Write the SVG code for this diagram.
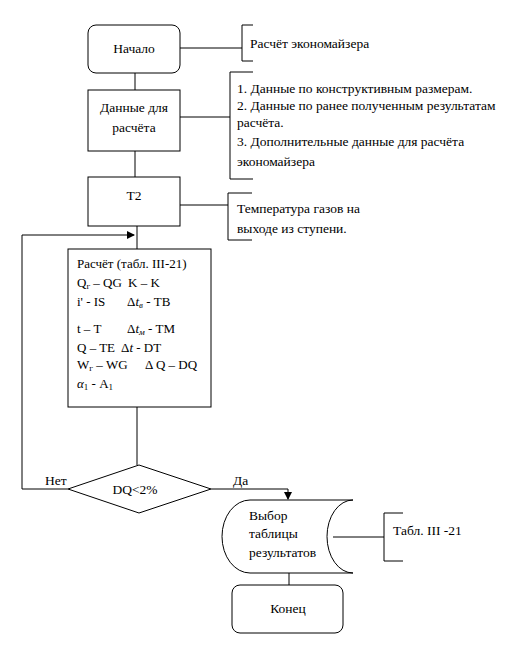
<svg xmlns="http://www.w3.org/2000/svg" width="532" height="646" viewBox="0 0 532 646" font-family="'Liberation Serif', 'Times New Roman', 'DejaVu Serif', serif">
<style>
text{font-family:'Liberation Serif','Times New Roman','DejaVu Serif',serif;font-size:13.5px;fill:#000}
.c{text-anchor:middle}
.s{fill:#fff;stroke:#000;stroke-width:1}
.l{fill:none;stroke:#000;stroke-width:1}
.sub{font-size:9px}
.i{font-style:italic}
#n-calc text{font-size:13px}
#n-calc .sub{font-size:9px}
</style>
<defs>
<marker id="ar" markerWidth="8" markerHeight="8" refX="7" refY="4" orient="auto" markerUnits="userSpaceOnUse">
<path d="M0,0 L8,4 L0,8 Z" fill="#000"/>
</marker>
</defs>
<rect width="532" height="646" fill="#fff"/>
<g id="connectors">
<path class="l" d="M135 73 V90"/>
<path class="l" d="M135 151 V177"/>
<path class="l" d="M137 226 V249"/>
<path class="l" d="M137 407 V465"/>
<path class="l" d="M68 489 H22 V235 H134" marker-end="url(#ar)"/>
<path class="l" d="M211 489 H288 V499" marker-end="url(#ar)"/>
<path class="l" d="M289 573 V585"/>
<path class="l" d="M180 48 H242"/>
<path class="l" d="M180 117 H230"/>
<path class="l" d="M180 205 H228"/>
<path class="l" d="M333 537 H384"/>
</g>
<g id="n-start">
<rect class="s" x="88" y="25" width="92" height="48" rx="8"/>
<text class="c" x="134" y="53">Начало</text>
</g>
<g id="n-note1">
<path class="l" d="M253 25 H242 V61 H253"/>
<text x="250" y="48">Расчёт экономайзера</text>
</g>
<g id="n-data">
<rect class="s" x="88" y="90" width="92" height="61"/>
<text class="c" x="134" y="112">Данные для</text>
<text class="c" x="134" y="132">расчёта</text>
</g>
<g id="n-note2">
<path class="l" d="M253 72 H230 V179 H253"/>
<text x="237" y="93">1. Данные по конструктивным размерам.</text>
<text x="237" y="110">2. Данные по ранее полученным результатам</text>
<text x="237" y="127">расчёта.</text>
<text x="237" y="146">3. Дополнительные  данные для расчёта</text>
<text x="237" y="166">экономайзера</text>
</g>
<g id="n-t2">
<rect class="s" x="88" y="177" width="92" height="49"/>
<text class="c" x="134" y="200">T2</text>
</g>
<g id="n-note3">
<path class="l" d="M252 193 H228 V240 H252"/>
<text x="237" y="213">Температура газов на</text>
<text x="237" y="233">выходе из ступени.</text>
</g>
<g id="n-calc">
<rect class="s" x="68" y="249" width="143" height="158"/>
<text x="77" y="268">Расчёт (табл. III-21)</text>
<text x="77" y="287">Q<tspan class="sub" dy="2">г</tspan><tspan dy="-2"> – QG</tspan></text>
<text x="128" y="287">K – K</text>
<text x="77" y="306">i' - IS</text>
<text x="127" y="306">Δ<tspan class="i">t</tspan><tspan class="sub i" dy="2">в</tspan><tspan dy="-2"> - TB</tspan></text>
<text x="77" y="333">t – T</text>
<text x="127" y="333">Δ<tspan class="i">t</tspan><tspan class="sub i" dy="2">м</tspan><tspan dy="-2"> - TM</tspan></text>
<text x="77" y="352">Q – TE</text>
<text x="121" y="352">Δ<tspan class="i">t</tspan>  - DT</text>
<text x="77" y="369">W<tspan class="sub" dy="2">г</tspan><tspan dy="-2"> – WG</tspan></text>
<text x="145" y="369">Δ Q – DQ</text>
<text x="77" y="388"><tspan class="i">α</tspan><tspan class="sub" dy="2">1</tspan><tspan dy="-2"> - A</tspan><tspan class="sub" dy="2">1</tspan></text>
</g>
<g id="n-decision">
<path class="s" d="M68 489 L139 465 L211 489 L139 513 Z"/>
<text class="c" x="135" y="494">DQ&lt;2%</text>
<text x="45" y="485">Нет</text>
<text x="233" y="485">Да</text>
</g>
<g id="n-select">
<path class="s" d="M250 500 H353 A26 36.5 0 0 0 353 573 H250 A28 36.5 0 0 1 250 500 Z"/>
<text x="249" y="520">Выбор</text>
<text x="249" y="538">таблицы</text>
<text x="249" y="557">результатов</text>
</g>
<g id="n-note4">
<path class="l" d="M403 513 H384 V561 H403"/>
<text x="393" y="535">Табл. III -21</text>
</g>
<g id="n-end">
<rect class="s" x="232" y="585" width="111" height="48" rx="8"/>
<text class="c" x="288" y="613">Конец</text>
</g>
</svg>
